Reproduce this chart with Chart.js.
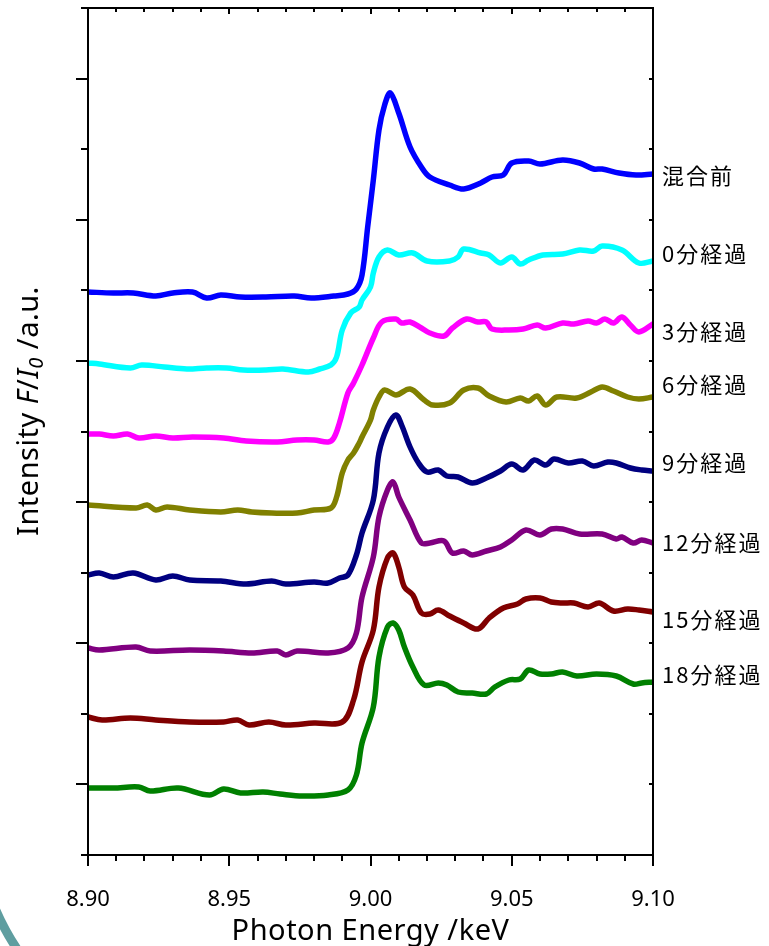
<!DOCTYPE html>
<html lang="ja">
<head>
<meta charset="UTF-8">
<title>XANES spectra</title>
<script src="https://cdn.jsdelivr.net/npm/chart.js"></script>
<style>
  html, body { margin: 0; padding: 0; background: #fff; }
  #wrap { position: relative; width: 769px; height: 946px; }
</style>
</head>
<body>
<div id="wrap"><canvas id="xas"></canvas></div>
<script>
// series names (right-hand labels)
const seriesNames = ['混合前', '0分経過', '3分経過', '6分経過', '9分経過', '12分経過', '15分経過', '18分経過'];
const seriesColors = ['#0000ff', '#00ffff', '#ff00ff', '#808000', '#000080', '#800080', '#800000', '#008000'];
// vertical level (a.u.) where each name sits
const labelLevels = [679, 601, 523, 470, 392, 312, 235, 180];

// photon energy (keV) / intensity (a.u., offset stacked)
const beforeMixE = [8.900, 8.909, 8.916, 8.924, 8.930, 8.937, 8.942, 8.947, 8.954, 8.963, 8.973, 8.979, 8.987, 8.992, 8.995, 8.997, 8.999, 9.001, 9.003, 9.005, 9.007, 9.010, 9.014, 9.018, 9.021, 9.028, 9.033, 9.039, 9.043, 9.047, 9.050, 9.056, 9.060, 9.068, 9.074, 9.079, 9.082, 9.088, 9.094, 9.100];
const beforeMixI = [563, 562, 562, 559, 562, 563, 557, 560, 558, 558, 559, 557, 559, 561, 566, 580, 628, 675, 725, 750, 762, 742, 708, 688, 678, 670, 666, 672, 678, 680, 692, 694, 691, 695, 692, 686, 686, 682, 680, 681];

const min0E = [8.900, 8.904, 8.915, 8.919, 8.927, 8.935, 8.942, 8.949, 8.955, 8.963, 8.969, 8.978, 8.982, 8.986, 8.988, 8.990, 8.993, 8.996, 8.997, 9.000, 9.001, 9.003, 9.006, 9.010, 9.015, 9.020, 9.028, 9.031, 9.033, 9.039, 9.042, 9.046, 9.050, 9.053, 9.056, 9.061, 9.068, 9.074, 9.079, 9.082, 9.089, 9.095, 9.100];
const min0I = [492, 491, 487, 490, 488, 486, 487, 487, 485, 485, 486, 483, 486, 490, 498, 525, 542, 548, 555, 568, 582, 598, 605, 600, 602, 594, 594, 598, 606, 602, 600, 592, 598, 591, 595, 600, 601, 605, 604, 609, 605, 592, 594];

const min3E = [8.900, 8.904, 8.909, 8.914, 8.918, 8.924, 8.930, 8.937, 8.948, 8.956, 8.967, 8.974, 8.980, 8.985, 8.987, 8.989, 8.992, 8.994, 8.997, 9.001, 9.004, 9.009, 9.011, 9.014, 9.018, 9.021, 9.026, 9.029, 9.034, 9.038, 9.041, 9.043, 9.049, 9.054, 9.059, 9.062, 9.068, 9.072, 9.077, 9.080, 9.083, 9.086, 9.089, 9.092, 9.095, 9.100];
const min3I = [421, 421, 419, 421, 417, 419, 417, 418, 417, 414, 413, 415, 415, 413, 417, 432, 462, 472, 490, 517, 533, 536, 532, 533, 527, 522, 519, 527, 536, 533, 533, 526, 525, 526, 530, 527, 532, 531, 534, 532, 536, 532, 538, 530, 523, 531];

const min6E = [8.900, 8.917, 8.921, 8.924, 8.928, 8.936, 8.947, 8.953, 8.958, 8.965, 8.974, 8.980, 8.986, 8.988, 8.990, 8.992, 8.994, 8.996, 8.997, 9.000, 9.001, 9.003, 9.005, 9.009, 9.014, 9.019, 9.022, 9.028, 9.033, 9.038, 9.042, 9.048, 9.053, 9.056, 9.059, 9.062, 9.066, 9.073, 9.078, 9.082, 9.086, 9.091, 9.095, 9.100];
const min6I = [350, 347, 350, 345, 348, 345, 343, 345, 343, 342, 342, 345, 347, 358, 382, 395, 402, 412, 418, 435, 445, 458, 465, 460, 466, 455, 450, 452, 465, 467, 459, 453, 457, 454, 459, 450, 458, 457, 463, 468, 464, 458, 456, 458];

const min9E = [8.900, 8.904, 8.909, 8.916, 8.924, 8.930, 8.936, 8.947, 8.956, 8.965, 8.970, 8.980, 8.985, 8.989, 8.992, 8.995, 8.997, 9.001, 9.003, 9.006, 9.009, 9.011, 9.014, 9.017, 9.020, 9.024, 9.027, 9.031, 9.036, 9.041, 9.046, 9.050, 9.054, 9.058, 9.062, 9.065, 9.070, 9.075, 9.079, 9.084, 9.087, 9.092, 9.096, 9.100];
const min9I = [280, 282, 278, 282, 275, 279, 275, 274, 271, 274, 271, 273, 272, 277, 280, 300, 322, 355, 402, 428, 440, 430, 408, 392, 383, 385, 379, 378, 372, 377, 384, 391, 385, 395, 390, 396, 392, 394, 389, 393, 392, 387, 385, 384];

const min12E = [8.900, 8.904, 8.917, 8.922, 8.936, 8.948, 8.958, 8.967, 8.970, 8.974, 8.985, 8.992, 8.995, 8.997, 9.001, 9.003, 9.006, 9.008, 9.010, 9.014, 9.018, 9.021, 9.026, 9.029, 9.033, 9.036, 9.041, 9.046, 9.050, 9.055, 9.060, 9.064, 9.068, 9.074, 9.082, 9.087, 9.089, 9.093, 9.096, 9.100];
const min12I = [207, 205, 208, 204, 205, 204, 202, 204, 200, 204, 202, 207, 222, 258, 298, 338, 365, 373, 358, 335, 312, 312, 314, 302, 304, 300, 304, 308, 315, 325, 320, 326, 326, 321, 321, 316, 318, 312, 315, 312];

const min15E = [8.900, 8.905, 8.915, 8.924, 8.936, 8.948, 8.953, 8.957, 8.964, 8.970, 8.980, 8.990, 8.994, 8.997, 9.001, 9.003, 9.006, 9.008, 9.010, 9.012, 9.015, 9.018, 9.021, 9.024, 9.028, 9.033, 9.038, 9.042, 9.047, 9.052, 9.055, 9.060, 9.064, 9.068, 9.072, 9.077, 9.081, 9.086, 9.091, 9.095, 9.100];
const min15I = [138, 135, 137, 135, 133, 133, 135, 130, 133, 130, 132, 133, 155, 193, 225, 268, 297, 302, 288, 268, 260, 242, 241, 245, 239, 232, 226, 237, 247, 251, 256, 257, 253, 252, 252, 248, 252, 244, 246, 245, 243];

const min18E = [8.900, 8.909, 8.918, 8.922, 8.932, 8.943, 8.948, 8.954, 8.962, 8.968, 8.976, 8.985, 8.992, 8.995, 8.997, 9.001, 9.003, 9.006, 9.008, 9.010, 9.012, 9.015, 9.019, 9.024, 9.027, 9.031, 9.036, 9.041, 9.044, 9.049, 9.053, 9.056, 9.060, 9.064, 9.068, 9.073, 9.080, 9.087, 9.093, 9.096, 9.100];
const min18I = [67, 67, 68, 64, 67, 60, 66, 62, 63, 61, 59, 60, 65, 80, 112, 148, 198, 228, 232, 225, 208, 188, 170, 172, 170, 163, 162, 161, 168, 175, 176, 185, 181, 181, 183, 179, 181, 179, 171, 172, 173];

const energies = [beforeMixE, min0E, min3E, min6E, min9E, min12E, min15E, min18E];
const intensities = [beforeMixI, min0I, min3I, min6I, min9I, min12I, min15I, min18I];

// axis range (a.u. on y, 12 tick steps)
const yMax = 847;
const yStep = yMax / 12;
const LATIN = "'Noto Sans', sans-serif";
const CJK = "'Noto Sans CJK JP', sans-serif";

const datasets = seriesNames.map((name, i) => ({
    label: name,
    data: energies[i].map((e, k) => ({ x: e, y: intensities[i][k] })),
    borderColor: seriesColors[i],
    backgroundColor: seriesColors[i],
    fill: false
}));

function seg(ctx, x1, y1, x2, y2) {
    ctx.beginPath();
    ctx.moveTo(x1, y1);
    ctx.lineTo(x2, y2);
    ctx.stroke();
}

const decor = {
    id: 'decor',
    beforeDraw(chart) {
        const ctx = chart.ctx;
        ctx.save();
        ctx.strokeStyle = '#5f9ea0';
        ctx.lineWidth = 9;
        ctx.beginPath();
        ctx.arc(226, 810, 251, Math.PI * 0.70, Math.PI * 0.92);
        ctx.stroke();
        ctx.restore();
    },
    afterDraw(chart) {
        const { ctx, chartArea: a, scales: { x, y } } = chart;
        ctx.save();
        ctx.strokeStyle = '#000';
        ctx.lineWidth = 2;
        ctx.strokeRect(a.left, a.top, a.right - a.left, a.bottom - a.top);

        // x ticks: outward at bottom, inward at top
        x.ticks.forEach(t => {
            const px = Math.round(x.getPixelForValue(t.value));
            const major = Math.round(t.value * 100) % 5 === 0;
            seg(ctx, px, a.bottom, px, a.bottom + (major ? 11 : 6));
            seg(ctx, px, a.top, px, a.top + (major ? 6 : 4));
        });
        // y ticks: outward at left, inward at right
        for (let i = 0; i <= 12; i++) {
            const py = Math.round(y.getPixelForValue(i * yStep));
            const major = i % 2 === 1;
            seg(ctx, a.left - (major ? 12 : 7), py, a.left, py);
            seg(ctx, a.right - 4, py, a.right, py);
        }

        // right-hand series names
        ctx.fillStyle = '#000';
        ctx.font = '22px ' + CJK;
        ctx.letterSpacing = '2px';
        ctx.textAlign = 'left';
        ctx.textBaseline = 'middle';
        seriesNames.forEach((n, i) => {
            ctx.fillText(n, a.right + 9, y.getPixelForValue(labelLevels[i]));
        });

        // x title
        ctx.font = '29px ' + LATIN;
        ctx.letterSpacing = '0.5px';
        ctx.textAlign = 'center';
        ctx.textBaseline = 'alphabetic';
        ctx.fillText('Photon Energy /keV', (a.left + a.right) / 2, 940);

        // y title: Intensity F/I0 /a.u.
        ctx.textBaseline = 'middle';
        const parts = [
            { t: 'Intensity ', f: '29px ' + LATIN, dy: 0 },
            { t: 'F', f: 'italic 29px ' + LATIN, dy: 0 },
            { t: '/', f: '29px ' + LATIN, dy: 0 },
            { t: 'I', f: 'italic 29px ' + LATIN, dy: 0 },
            { t: '0', f: 'italic 20px ' + LATIN, dy: 7 },
            { t: ' /a.u.', f: '29px ' + LATIN, dy: 0 }
        ];
        let total = 0;
        parts.forEach(p => { ctx.font = p.f; p.w = ctx.measureText(p.t).width; total += p.w; });
        ctx.translate(30, 411);
        ctx.rotate(-Math.PI / 2);
        ctx.textAlign = 'left';
        let cx = -total / 2;
        parts.forEach(p => {
            ctx.font = p.f;
            ctx.fillText(p.t, cx, p.dy);
            cx += p.w;
        });
        ctx.restore();
    }
};

new Chart(document.getElementById('xas'), {
    type: 'line',
    data: { datasets: datasets },
    options: {
        responsive: true,
        maintainAspectRatio: false,
        animation: false,
        layout: { padding: { top: 8, right: 116, left: 0, bottom: 0 } },
        plugins: {
            legend: { display: false },
            tooltip: { enabled: false }
        },
        elements: {
            point: { radius: 0 },
            line: { borderWidth: 5.5, tension: 0.35, borderCapStyle: 'round', borderJoinStyle: 'round' }
        },
        scales: {
            x: {
                type: 'linear',
                min: 8.9,
                max: 9.1,
                grid: { display: false },
                border: { display: false },
                ticks: {
                    stepSize: 0.01,
                    autoSkip: false,
                    maxRotation: 0,
                    padding: 24,
                    color: '#000',
                    font: { family: LATIN, size: 22 },
                    callback: v => (Math.round(v * 100) % 5 === 0 ? v.toFixed(2) : '')
                },
                afterFit: s => { s.height = 91; }
            },
            y: {
                type: 'linear',
                min: 0,
                max: yMax,
                grid: { display: false },
                border: { display: false },
                ticks: { display: false },
                afterFit: s => { s.width = 88; }
            }
        }
    },
    plugins: [decor]
});
</script>
</body>
</html>
